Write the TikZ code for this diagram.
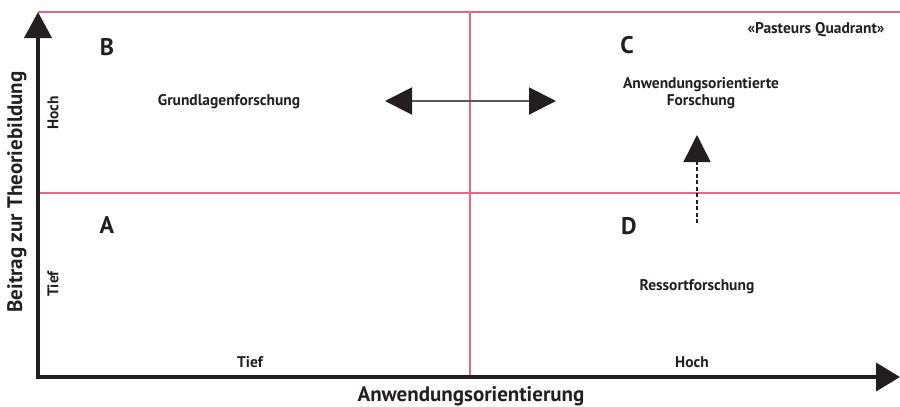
\documentclass[tikz,border=0pt]{standalone}
\usepackage{fontspec}
\setmainfont{PT Sans}
\usetikzlibrary{arrows.meta}
\definecolor{gridred}{RGB}{225,105,130}
\definecolor{inkblack}{RGB}{35,31,32}

\begin{document}
\begin{tikzpicture}[x=1pt, y=-1pt,
    lbl/.style={font=\bfseries\fontsize{15.5}{17}\selectfont, text=inkblack, align=center, inner sep=0pt},
    quad/.style={font=\bfseries\fontsize{24}{26}\selectfont, text=inkblack, inner sep=0pt},
    axtitle/.style={font=\bfseries\fontsize{21}{23}\selectfont, text=inkblack, inner sep=0pt},
    gridline/.style={gridred, line width=1.5pt},
    axis/.style={inkblack, line width=4pt, line join=miter,
        {Triangle[length=26pt,width=27pt]}-{Triangle[length=24pt,width=28pt]}},
    bigtip/.style={-{Triangle[length=27pt,width=27pt,color=inkblack]}},
    twotips/.style={{Triangle[length=27pt,width=27pt,color=inkblack]}-{Triangle[length=27pt,width=27pt,color=inkblack]}}]
    \useasboundingbox (0,0) rectangle (900,407);

    % Corner points of the axes
    \coordinate (origin) at (38,377);
    \coordinate (ytip) at (38,12);
    \coordinate (xtip) at (900,377);

    % Red quadrant lines
    \coordinate (topleft) at (38,12);
    \coordinate (topright) at (900,12);
    \coordinate (midleft) at (38,193);
    \coordinate (midright) at (900,193);
    \coordinate (splittop) at (470,12);
    \coordinate (splitbottom) at (470,377);
    \draw[gridline] (topleft) -- (topright);
    \draw[gridline] (midleft) -- (midright);
    \draw[gridline] (splittop) -- (splitbottom);

    % Axes
    \draw[axis] (ytip) -- (origin) -- (xtip);

    % Axis titles and levels
    \node[axtitle, rotate=90] (ytitle) at (17,192) {Beitrag zur Theoriebildung};
    \node[axtitle] (xtitle) at (471,396) {Anwendungsorientierung};
    \node[lbl, rotate=90] (hochy) at (53,113) {Hoch};
    \node[lbl, rotate=90] (tiefy) at (53,284) {Tief};
    \node[lbl] (tiefx) at (250,362) {Tief};
    \node[lbl] (hochx) at (692,362) {Hoch};

    % Quadrant letters
    \node[quad] (quadB) at (107,47) {B};
    \node[quad] (quadC) at (627,45) {C};
    \node[quad] (quadA) at (107,225) {A};
    \node[quad] (quadD) at (629,226) {D};

    % Quadrant texts
    \node[lbl] (grundlagen) at (229,102) {Grundlagenforschung};
    \node[lbl] (anwendung) at (701,93) {Anwendungsorientierte\\Forschung};
    \node[lbl] (pasteur) at (816,30) {«Pasteurs Quadrant»};
    \node[lbl] (ressort) at (697,287) {Ressortforschung};

    % Arrows
    \coordinate (leftend) at (385,101);
    \coordinate (rightend) at (556,101);
    \draw[twotips, inkblack!75, line width=2pt] (leftend) -- (rightend);
    \coordinate (dashfoot) at (697,223);
    \coordinate (dashtop) at (697,135);
    \draw[bigtip, inkblack, line width=1.5pt, dash pattern=on 4pt off 2.5pt] (dashfoot) -- (dashtop);
\end{tikzpicture}
\end{document}
